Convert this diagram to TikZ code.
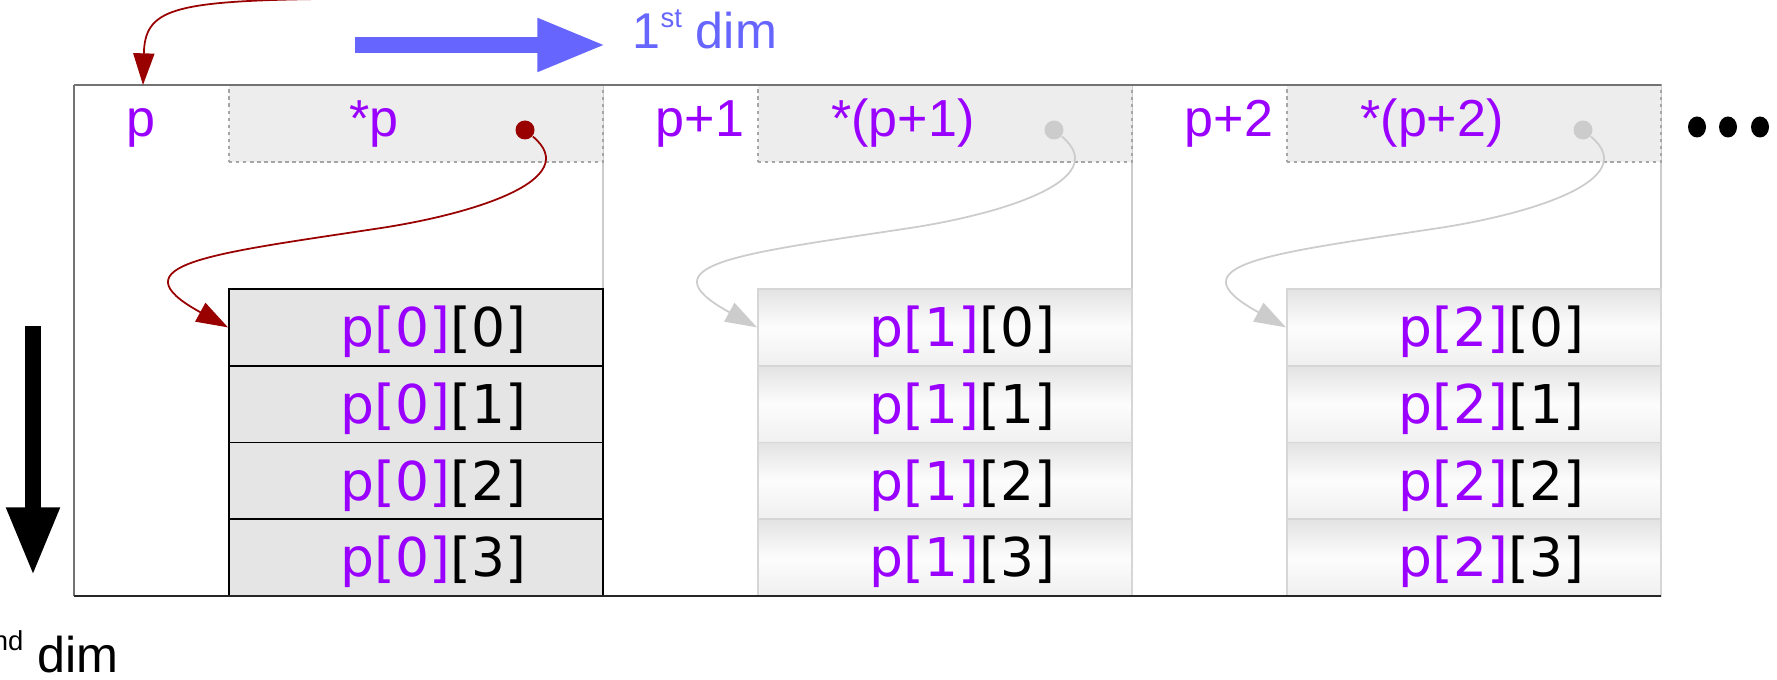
\documentclass[tikz,border=0pt]{standalone}
\usepackage{fontspec}
\setmainfont{Liberation Sans}
\newfontfamily\cellfont{DejaVu Sans}
\usetikzlibrary{calc,arrows.meta}
\definecolor{ptrpurple}{HTML}{9900FF}
\definecolor{ptrred}{HTML}{990000}
\definecolor{ptrgray}{HTML}{CCCCCC}
\definecolor{dimblue}{HTML}{6666FF}
\newcommand{\ordsup}[1]{\raisebox{6pt}{\fontsize{7.8}{8}\selectfont #1}}

\begin{document}
\begin{tikzpicture}[x=0.01cm,y=0.01cm,
    lbl/.style={text=ptrpurple, inner sep=0, font=\fontsize{14.8}{17}\selectfont},
    dimlbl/.style={inner sep=0, font=\fontsize{14.3}{17}\selectfont},
    dimarrow/.style={draw=#1, line width=4.5pt, -{Triangle[length=19.5pt,width=14pt]}},
    topbox/.style={fill=black!7, draw=black!35, dash pattern=on 1pt off 1pt, line width=0.4pt,
      minimum width=3.74cm, minimum height=0.77cm, inner sep=0},
    cell/.style={minimum width=3.74cm, minimum height=0.7675cm, inner sep=0, line width=0.5pt,
      text height=14.2pt, text depth=3.2pt, font=\cellfont\fontsize{15.2}{18}\selectfont},
    firstcell/.style={cell, fill=black!10, draw=black},
    nextcell/.style={cell, top color=black!11, bottom color=black!6, middle color=black!1, draw=black!16},
    ptrdot/.style={circle, fill=#1, inner sep=0, minimum size=0.19cm},
    ptrline/.style={draw=#1, line width=0.5pt, -{Triangle[length=9pt,width=6pt]}}]

    % Fix the picture size
    \useasboundingbox (0,0) rectangle (1777,679);

    % Column dividers
    \foreach \x in {603,1132,1661}
      \draw[ptrgray, line width=0.4pt] (\x,83) -- (\x,594);

    % One column for each pointer p+i
    \foreach \i/\addr/\val/\pc/\cellstyle in {0/p/{*p}/ptrred/firstcell,
        1/p+1/{*(p+1)}/ptrgray/nextcell, 2/p+2/{*(p+2)}/ptrgray/nextcell} {
      \pgfmathsetmacro{\cx}{74+529*\i}
      % the slot holding *(p+i)
      \node[topbox] (b\i) at (\cx+342,555.5) {};
      \node[lbl, anchor=base west] (a\i) at (\cx+52,542) {\addr};
      \node[lbl, anchor=base] (v\i) at (\cx+300,542) {\val};
      \node[ptrdot=\pc] (d\i) at (\cx+451,549) {};
      % the row it points to
      \foreach \j in {0,...,3}
        \node[\cellstyle] (c\i\j) at (\cx+342,351.6-76.75*\j)
          {\hspace*{0.35cm}\textcolor{ptrpurple}{p[\i]}[\j]};
      \draw[ptrline=\pc] (d\i) .. controls +(60,-50) and +(95,14) .. ($(d\i)!0.5!(c\i0.west)$)
        .. controls +(-165,-25) and +(-115,63) .. (c\i0.west);
    }

    % Frame of the array
    \draw[black!55, line width=0.6pt] (74,594) -- (1661,594);
    \draw[black!55, line width=0.4pt] (74,594) -- (74,83);
    \draw[black!85, line width=0.5pt] (74,83) -- (1661,83);

    % Where p comes from
    \coordinate (src) at (320,680);
    \coordinate (pin) at (143,594);
    \draw[ptrline=ptrred] (src) .. controls +(-150,-2) and +(2,75) .. (pin);

    % Dimension arrows
    \coordinate (dim1tail) at (355,634);
    \coordinate (dim1head) at (606,634);
    \draw[dimarrow=dimblue] (dim1tail) -- (dim1head);
    \node[dimlbl, text=dimblue, anchor=base west] (dim1) at (632,630) {1\ordsup{st} dim};
    \coordinate (dim2tail) at (33,353);
    \coordinate (dim2head) at (33,103);
    \draw[dimarrow=black] (dim2tail) -- (dim2head);
    \node[dimlbl, anchor=base east] (dim2) at (119,7) {2\ordsup{nd} dim};

    % More columns follow
    \foreach \x in {1697,1728,1760}
      \fill (\x,552) ellipse (0.09cm and 0.105cm);

\end{tikzpicture}
\end{document}
